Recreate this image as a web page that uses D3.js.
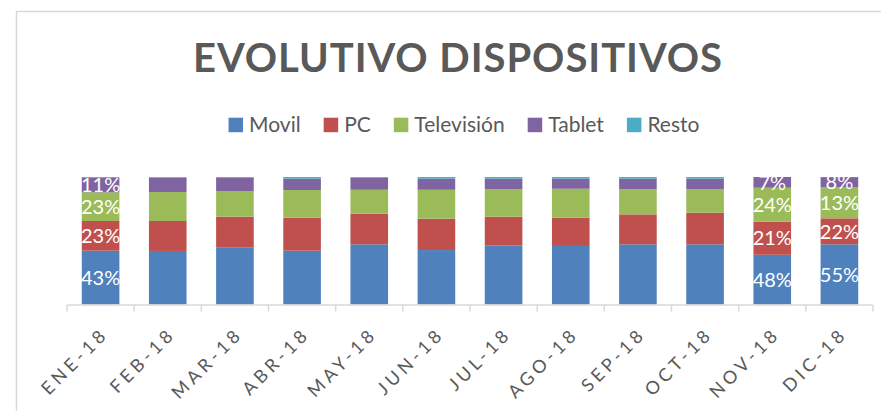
<!DOCTYPE html>
<html>
<head>
<meta charset="utf-8">
<script src="https://cdn.jsdelivr.net/npm/d3@7"></script>
<style>
  body { margin: 0; background: #fff; }
  text { font-family: Lato, "Open Sans", sans-serif; }
</style>
</head>
<body>
<div id="chart"></div>
<script>
const months = ["ENE-18", "FEB-18", "MAR-18", "ABR-18", "MAY-18", "JUN-18",
  "JUL-18", "AGO-18", "SEP-18", "OCT-18", "NOV-18", "DIC-18"];
const series = ["Movil", "PC", "Televisión", "Tablet", "Resto"];
const colors = ["#4F81BD", "#C0504D", "#9BBB59", "#8064A2", "#4BACC6"];

// shares (%)
const movil = [42.2, 42.0, 44.9, 42.2, 47.2, 42.7, 46.4, 45.9, 47.2, 47.2, 39.0, 47.2];
const pc = [23.3, 23.5, 24.0, 25.9, 24.0, 24.6, 22.5, 22.2, 23.5, 24.8, 26.0, 20.4];
const television = [22.5, 22.7, 20.1, 21.7, 18.8, 22.7, 21.7, 22.7, 19.6, 18.6, 26.6, 24.3];
const tablet = [11.7, 11.3, 10.7, 8.9, 9.4, 8.7, 8.1, 7.9, 8.4, 8.1, 8.4, 8.0];
const resto = [0.3, 0.5, 0.3, 1.3, 0.6, 1.3, 1.3, 1.3, 1.3, 1.3, 0.0, 0.1];

// data labels as printed on the chart
const movilLabels = ["43%", "", "", "", "", "", "", "", "", "", "48%", "55%"];
const pcLabels = ["23%", "", "", "", "", "", "", "", "", "", "21%", "22%"];
const televisionLabels = ["23%", "", "", "", "", "", "", "", "", "", "24%", "13%"];
const tabletLabels = ["11%", "", "", "", "", "", "", "", "", "", "7%", "8%"];

const values = [movil, pc, television, tablet, resto];
const labels = [movilLabels, pcLabels, televisionLabels, tabletLabels, []];

let width = 881, height = 411;

let svg = d3.select("#chart")
  .append("svg")
  .attr("width", width)
  .attr("height", height);

// chart border (only top and left visible)
svg.append("path")
  .attr("d", "M16.5,411 V11.5 H881")
  .attr("fill", "none")
  .attr("stroke", "#d9d9d9")
  .attr("stroke-width", 1.5);

// title
svg.append("text")
  .attr("x", 457.5)
  .attr("y", 72)
  .attr("text-anchor", "middle")
  .attr("font-size", 40)
  .attr("font-weight", "bold")
  .attr("fill", "#595959")
  .attr("textLength", 529)
  .attr("lengthAdjust", "spacing")
  .text("EVOLUTIVO DISPOSITIVOS");

// table for d3.stack
let table = months.map((m, i) => {
  let row = { month: m };
  series.forEach((s, j) => row[s] = values[j][i]);
  return row;
});

let stacked = d3.stack().keys(series).offset(d3.stackOffsetExpand)(table);

let x = d3.scaleBand()
  .domain(months)
  .range([67, 873])
  .paddingInner(0.44)
  .paddingOuter(0.22);

let y = d3.scaleLinear().domain([0, 1]).range([304.5, 177]);

let color = d3.scaleOrdinal().domain(series).range(colors);

// bars
let layers = svg.append("g")
  .selectAll("g")
  .data(stacked)
  .enter()
  .append("g")
  .attr("fill", d => color(d.key));

layers.selectAll("rect")
  .data(d => d)
  .enter()
  .append("rect")
  .attr("x", d => x(d.data.month))
  .attr("y", d => y(d[1]))
  .attr("width", x.bandwidth())
  .attr("height", d => Math.max(0, y(d[0]) - y(d[1])));

// data labels
stacked.forEach((layer, j) => {
  svg.append("g")
    .selectAll("text")
    .data(layer.filter((d, i) => labels[j][i]))
    .enter()
    .append("text")
    .attr("x", d => x(d.data.month) + x.bandwidth() / 2)
    .attr("y", d => (y(d[0]) + y(d[1])) / 2)
    .attr("dy", "0.36em")
    .attr("text-anchor", "middle")
    .attr("font-size", 20)
    .attr("fill", "#fff")
    .text(d => labels[j][months.indexOf(d.data.month)]);
});

// x axis: line plus ticks on category boundaries
let axis = svg.append("g").attr("stroke", "#d9d9d9").attr("stroke-width", 1.5);
axis.append("line")
  .attr("x1", x.range()[0]).attr("x2", x.range()[1])
  .attr("y1", 305).attr("y2", 305);

let bounds = months.map(m => x(m) - x.step() * x.paddingOuter()).concat([x.range()[1]]);
axis.selectAll("line.tick")
  .data(bounds)
  .enter()
  .append("line")
  .attr("class", "tick")
  .attr("x1", d => d).attr("x2", d => d)
  .attr("y1", 305).attr("y2", 311.5);

svg.append("g")
  .selectAll("text")
  .data(months)
  .enter()
  .append("text")
  .attr("transform", d => "translate(" + (x(d) + x.bandwidth() / 2 + 9) + ",335) rotate(-45)")
  .attr("text-anchor", "end")
  .attr("font-size", 18)
  .attr("letter-spacing", 4)
  .attr("fill", "#595959")
  .text(d => d);

// legend
let legend = svg.append("g");
let items = legend.selectAll("g")
  .data(series)
  .enter()
  .append("g");

items.append("rect")
  .attr("width", 14.5)
  .attr("height", 14.5)
  .attr("y", 117.7)
  .attr("fill", d => color(d));

items.append("text")
  .attr("x", 20.5)
  .attr("y", 132.3)
  .attr("font-size", 21)
  .attr("fill", "#595959")
  .text(d => d);

let pos = 0, offsets = [];
items.each(function () {
  offsets.push(pos);
  let w = d3.select(this).select("text").node().getComputedTextLength();
  pos += 20.5 + w + 23;
});
let total = pos - 23;
let start = 464 - total / 2;
items.attr("transform", (d, i) => "translate(" + (start + offsets[i]) + ",0)");
</script>
</body>
</html>
